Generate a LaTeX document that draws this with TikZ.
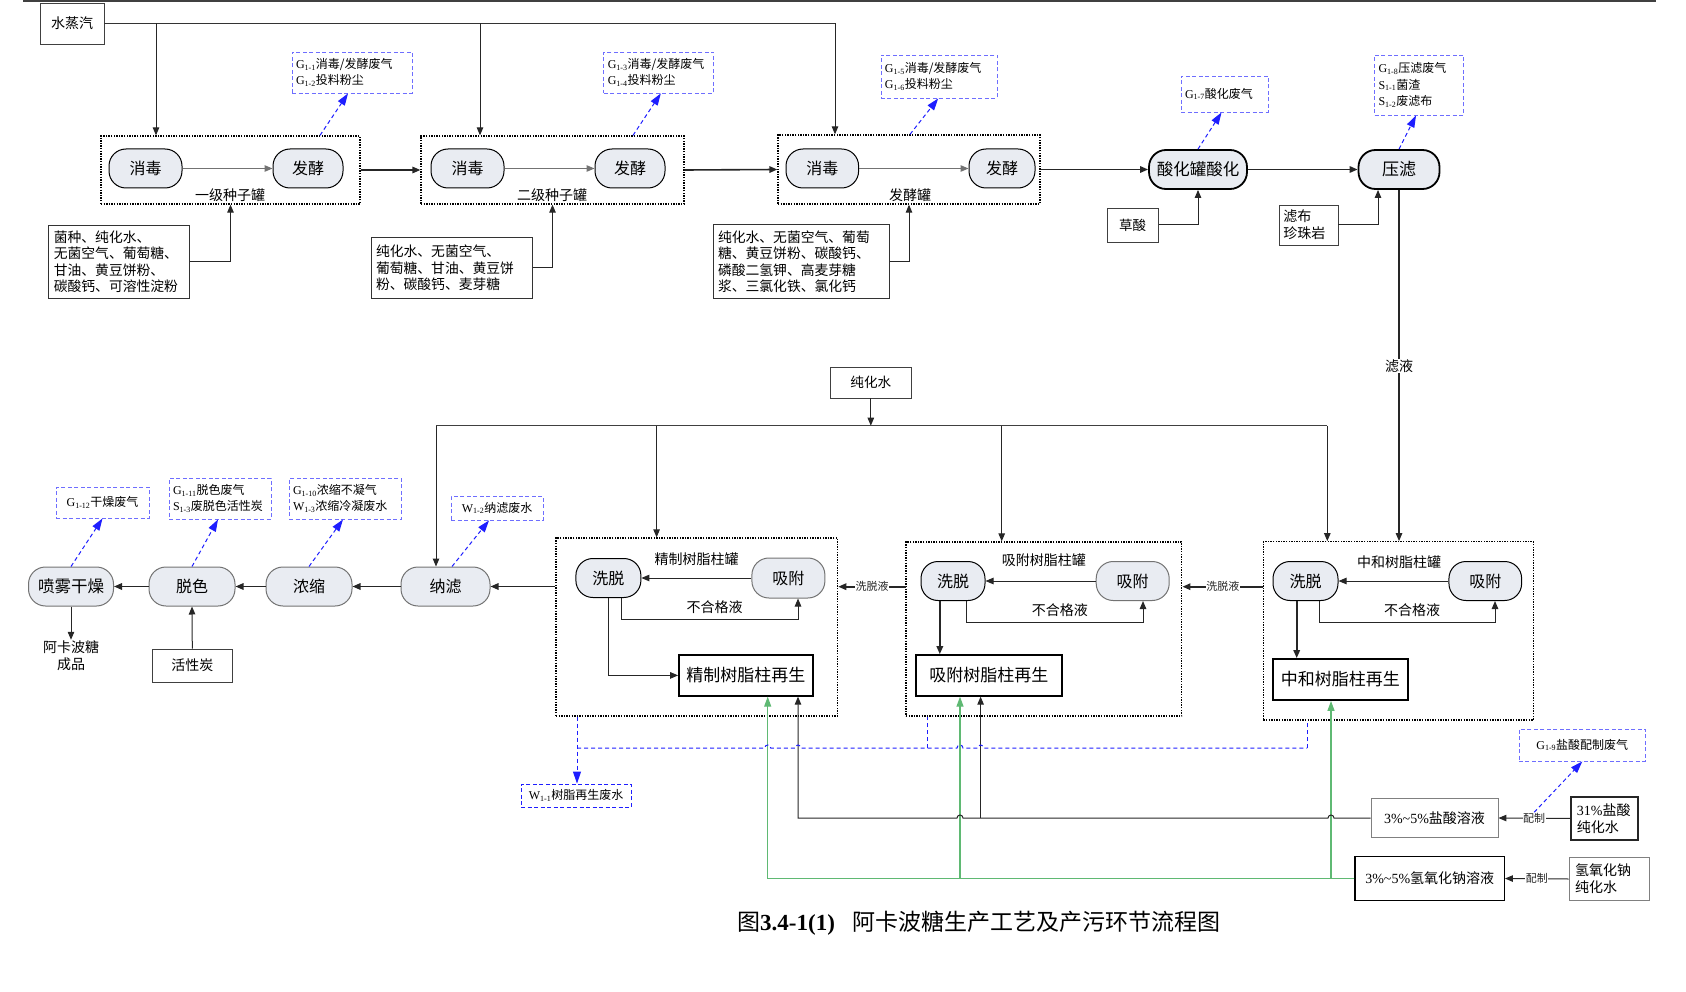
\documentclass[tikz,border=0pt]{standalone}
\usepackage{fontspec}
\setmainfont{Noto Sans CJK SC}
\newfontfamily\tnr{Liberation Serif}
\usetikzlibrary{arrows.meta,calc}
\definecolor{procfill}{RGB}{233,236,242}
\definecolor{eblue}{RGB}{30,30,255}
\definecolor{eboxc}{RGB}{110,110,255}
\definecolor{lgreen}{RGB}{95,185,115}
\newcommand\emsub[2]{{\tnr #1\textsubscript{#2}}}
\newcommand\fsz[2]{\fontsize{#1}{#2}\selectfont}
\begin{document}
\begin{tikzpicture}[x=1pt,y=-1pt,
 proc/.style={draw=black, line width=1pt, fill=procfill, rounded corners=17pt, minimum height=39pt, inner sep=0pt, font=\fsz{16}{18}},
 procg/.style={proc, draw=black!55},
 procb/.style={proc, line width=1.8pt, font=\fsz{16.5}{18}},
 tank/.style={draw, line width=1.3pt, dash pattern=on 1.4pt off 1.2pt, inner sep=0pt},
 plain/.style={draw=black!75, line width=0.9pt, inner sep=0pt, font=\fsz{14}{17}},
 inbox/.style={draw=black!80, line width=1pt, align=left, inner xsep=5pt, inner ysep=0pt, font=\fsz{13.8}{16.5}},
 emis/.style={draw=eboxc, dash pattern=on 4pt off 2.5pt, line width=0.9pt, align=left, inner xsep=4pt, inner ysep=0pt, font=\fsz{12}{16.5}},
 regen/.style={draw, line width=1.8pt, inner sep=0pt, font=\fsz{17}{20}},
 lbl/.style={inner sep=1pt, font=\fsz{14}{17}},
 slbl/.style={inner sep=0.5pt, fill=white, font=\fsz{11}{13}},
 arr/.style={-{Triangle[length=8pt,width=6.5pt]}, line width=1pt, black!85},
 tarr/.style={arr, line width=1.6pt},
 garr/.style={-{Triangle[length=10pt,width=7pt]}, line width=1.2pt, lgreen},
 earr/.style={eblue, dash pattern=on 4pt off 3pt, line width=1pt, -{Triangle[length=12pt,width=8pt]}},
 edash/.style={eblue, dash pattern=on 4pt off 3pt, line width=1pt}]
\useasboundingbox (0,0) rectangle (1686,992);

% top rule
\draw[line width=2pt, black!75] (23,1) -- (1656,1);

% ---------- top row ----------
\node[plain, minimum width=64pt, minimum height=41pt] (steam) at (72,23.5) {水蒸汽};

\node[tank, minimum width=259pt, minimum height=68pt] (T1) at (230.5,170) {};
\node[proc, minimum width=73pt] (s1) at (145.5,168.5) {消毒};
\node[proc, minimum width=70pt] (f1) at (308,168.5) {发酵};
\node[lbl] (T1l) at (230,195) {一级种子罐};
\node[emis, text width=112pt, minimum height=41pt] (e1) at (352,72.5) {\emsub{G}{1-1}消毒/发酵废气\\\emsub{G}{1-2}投料粉尘};
\node[inbox, text width=131pt, minimum height=72pt] (in1) at (119.3,262) {菌种、纯化水、\\无菌空气、葡萄糖、\\甘油、黄豆饼粉、\\碳酸钙、可溶性淀粉};

\node[tank, minimum width=263pt, minimum height=68pt] (T2) at (552.5,170) {};
\node[proc, minimum width=73pt] (s2) at (467.5,168.5) {消毒};
\node[proc, minimum width=70pt] (f2) at (630,168.5) {发酵};
\node[lbl] (T2l) at (552,195) {二级种子罐};
\node[emis, text width=102pt, minimum height=41pt] (e2) at (658.8,72.5) {\emsub{G}{1-3}消毒/发酵废气\\\emsub{G}{1-4}投料粉尘};
\node[inbox, text width=151pt, minimum height=60pt] (in2) at (451.5,268) {纯化水、无菌空气、\\葡萄糖、甘油、黄豆饼\\粉、碳酸钙、麦芽糖};

\node[tank, minimum width=262pt, minimum height=69pt] (T3) at (909,169.5) {};
\node[proc, minimum width=72.6pt] (s3) at (822.3,168.5) {消毒};
\node[proc, minimum width=66pt] (f3) at (1002,168.5) {发酵};
\node[lbl] (T3l) at (910,195) {发酵罐};
\node[emis, text width=108.5pt, minimum height=43pt] (e3) at (939.2,76.5) {\emsub{G}{1-5}消毒/发酵废气\\\emsub{G}{1-6}投料粉尘};
\node[inbox, text width=166pt, minimum height=73pt] (in3) at (801,261.5) {纯化水、无菌空气、葡萄\\糖、黄豆饼粉、碳酸钙、\\磷酸二氢钾、高麦芽糖\\浆、三氯化铁、氯化钙};

\node[procb, minimum width=98pt] (acid) at (1198,169.5) {酸化罐酸化};
\node[emis, text width=79pt, minimum height=36pt] (e4) at (1224.5,94) {\emsub{G}{1-7}酸化废气};
\node[plain, minimum width=51.5pt, minimum height=34pt, font=\fsz{13.5}{16}] (oxal) at (1132.7,225) {草酸};

\node[procb, minimum width=81pt, font=\fsz{17}{19}] (press) at (1399,169.5) {压滤};
\node[emis, text width=81pt, minimum height=60pt] (e5) at (1419,85) {\emsub{G}{1-8}压滤废气\\\emsub{S}{1-1}菌渣\\\emsub{S}{1-2}废滤布};
\node[plain, align=left, inner xsep=4pt, text width=50.5pt, minimum height=40pt] (filt) at (1308.7,225) {滤布\\珍珠岩};

% top connectors
\coordinate (j1) at (156,23.5);
\coordinate (j2) at (480,23.5);
\coordinate (j3) at (835,23.5);
\draw[line width=1.1pt, black!80] (steam.east) -- (j3);
\draw[arr] (j1) -- (j1 |- T1.north);
\draw[arr] (j2) -- (j2 |- T2.north);
\draw[arr] (j3) -- (j3 |- T3.north);

\draw[arr, black!55] (s1.east) -- (f1.west);
\draw[arr, black!55] (s2.east) -- (f2.west);
\draw[arr, black!55] (s3.east) -- (f3.west);
\draw[tarr] (T1.east) -- (T2.west);
\draw[tarr] (T2.east) -- (T3.west);
\draw[tarr] (T3.east) -- (acid.west);
\draw[tarr] (acid.east) -- (press.west);

\draw[arr] (in1.east) -| (T1.south);
\draw[arr] (in2.east) -| (T2.south);
\draw[arr] (in3.east) -| (T3.south);
\draw[arr] (oxal.east) -| (acid.south);
\coordinate (pin) at ([xshift=-21pt]press.south);
\draw[arr] (filt.east) -| (pin);

\draw[earr] ([xshift=89.5pt]T1.north) -- ([xshift=-4pt]e1.south);
\draw[earr] ([xshift=80.5pt]T2.north) -- ([xshift=2pt]e2.south);
\draw[earr] ([xshift=1pt]T3.north) -- ([xshift=-1pt]e3.south);
\draw[earr] (acid.north) -- ([xshift=-3pt]e4.south);
\draw[earr] (press.north) -- ([xshift=-3pt]e5.south);

% ---------- middle ----------
\node[plain, minimum width=81.6pt, minimum height=31pt, font=\fsz{13.6}{16}] (pw) at (870.8,382.5) {纯化水};
\node[tank, minimum width=281.6pt, minimum height=178pt] (TA) at (696.8,627) {};
\node[tank, minimum width=275.8pt, minimum height=174pt] (TB) at (1043.9,629) {};
\node[tank, minimum width=270pt, minimum height=178.3pt] (TC) at (1398.3,630.9) {};

\coordinate (d0) at (436,425.7);
\coordinate (dA) at (656.6,425.7);
\coordinate (dB) at (1001.7,425.7);
\coordinate (dC) at (1327.3,425.7);
\draw[line width=1.1pt, black!75] (d0) -- (dC);
\draw[arr] (pw.south) -- (pw.south |- d0);
\draw[arr] (dA) -- (dA |- TA.north);
\draw[arr] (dB) -- (dB |- TB.north);
\draw[arr] (dC) -- (dC |- TC.north);

\draw[arr, line width=1.3pt] (press.south) -- (press.south |- TC.north);
\node[lbl, fill=white] (fl) at (1399,366) {滤液};

% bottom-left process row
\node[procg, minimum width=89pt] (nf) at (445.5,586.5) {纳滤};
\node[procg, minimum width=86pt] (cc) at (309,586.5) {浓缩};
\node[procg, minimum width=86pt] (dc) at (192,586.5) {脱色};
\node[procg, minimum width=85pt, font=\fsz{16.5}{18}] (sd) at (71,586.5) {喷雾干燥};
\node[lbl, align=center] (prod) at (71,656) {阿卡波糖\\成品};
\node[plain, minimum width=79.5pt, minimum height=33pt] (ac) at (192.3,665.5) {活性炭};
\node[emis, align=center, text width=85pt, minimum height=31pt] (e12) at (102.5,502.5) {\emsub{G}{1-12}干燥废气};
\node[emis, text width=94pt, minimum height=41pt] (e11) at (220,498.5) {\emsub{G}{1-11}脱色废气\\\emsub{S}{1-3}废脱色活性炭};
\node[emis, text width=104pt, minimum height=41pt] (e10) at (345,498.5) {\emsub{G}{1-10}浓缩不凝气\\\emsub{W}{1-3}浓缩冷凝废水};
\node[emis, align=center, text width=84pt, minimum height=24pt] (ew2) at (497,508) {\emsub{W}{1-2}纳滤废水};

\coordinate (dn) at ([xshift=-9.5pt]nf.north);
\draw[arr] (d0) -- (dn);
\draw[tarr] (nf.east -| TA.west) -- (nf.east);
\draw[tarr] (nf.west) -- (cc.east);
\draw[tarr] (cc.west) -- (dc.east);
\draw[tarr] (dc.west) -- (sd.east);
\draw[arr] (sd.south) -- (prod.north);
\draw[arr] (ac.north) -- (dc.south);

\draw[earr] (sd.north) -- (e12.south);
\draw[earr] (dc.north) -- ([xshift=-2pt]e11.south);
\draw[earr] (cc.north) -- ([xshift=-2pt]e10.south);
\draw[earr] ([xshift=6.5pt]nf.north) -- ([xshift=-8pt]ew2.south);

% ---------- resin tanks ----------
\node[proc, minimum width=65pt] (wA) at (608.4,578) {洗脱};
\node[procg, minimum width=73pt, minimum height=40pt] (aA) at (788.4,578) {吸附};
\node[lbl] (TAl) at (696.6,559) {精制树脂柱罐};
\node[regen, minimum width=133.7pt, minimum height=40.7pt] (rA) at (745.9,675.4) {精制树脂柱再生};
\node[lbl] (nA) at (714.7,606.7) {不合格液};

\node[proc, minimum width=64pt] (wB) at (953,581) {洗脱};
\node[procg, minimum width=73pt] (aB) at (1132.7,581) {吸附};
\node[lbl] (TBl) at (1043.8,560) {吸附树脂柱罐};
\node[regen, minimum width=146.1pt, minimum height=40.7pt] (rB) at (988.9,675.4) {吸附树脂柱再生};
\node[lbl] (nB) at (1059.8,610) {不合格液};

\node[proc, minimum width=65pt] (wC) at (1305.5,581) {洗脱};
\node[proc, minimum width=72.7pt] (aC) at (1485.3,581) {吸附};
\node[lbl] (TCl) at (1399,561.7) {中和树脂柱罐};
\node[regen, minimum width=134.7pt, minimum height=41pt] (rC) at (1340.3,679.5) {中和树脂柱再生};
\node[lbl] (nC) at (1412,610) {不合格液};

\draw[arr] (aA.west) -- (wA.east);
\draw[arr] ([xshift=12.6pt]wA.south) -- ++(0,21.2) -| ([xshift=9.6pt]aA.south);
\draw[arr] (wA.south) |- (rA.west);

\draw[arr] (aB.west) -- (wB.east);
\draw[arr] ([xshift=13pt]wB.south) -- ++(0,21.5) -| ([xshift=10.3pt]aB.south);
\coordinate (wBs) at ([xshift=-13.2pt]wB.south);
\draw[tarr] (wBs) -- (wBs |- rB.north);

\draw[arr] (aC.west) -- (wC.east);
\draw[arr] ([xshift=13.5pt]wC.south) -- ++(0,21.5) -| ([xshift=9.7pt]aC.south);
\coordinate (wCs) at ([xshift=-8.8pt]wC.south);
\draw[tarr] (wCs) -- (wCs |- rC.north);

\coordinate (xB) at (906,586.7);
\coordinate (xC) at (1263.3,586.7);
\draw[tarr] (xB) -- (xB -| TA.east) node[midway, slbl] (el1) {洗脱液};
\draw[tarr] (xC) -- (xC -| TB.east) node[midway, slbl] (el2) {洗脱液};

% ---------- bottom: reagent lines ----------
\node[plain, draw=black!50, minimum width=127pt, minimum height=38.3pt] (hcl) at (1434.5,818) {{\tnr 3\%\textasciitilde5\%}盐酸溶液};
\node[plain, draw=black!85, line width=1.8pt, align=left, inner xsep=6pt, text width=55pt, minimum height=42.7pt] (hs) at (1604.4,818.4) {{\tnr 31\%}盐酸\\纯化水};
\node[plain, draw=black, line width=1.2pt, minimum width=149.3pt, minimum height=43.6pt] (naoh) at (1429.7,878.5) {{\tnr 3\%\textasciitilde5\%}氢氧化钠溶液};
\node[plain, draw=black!50, align=left, inner xsep=6pt, text width=68.7pt, minimum height=42.6pt] (ns) at (1609.4,879) {氢氧化钠\\纯化水};
\node[emis, align=center, text width=118.7pt, minimum height=32pt] (e9) at (1582.3,745) {\emsub{G}{1-9}盐酸配制废气};
\node[emis, draw=eblue, align=center, text width=102pt, minimum height=23pt] (ew1) at (576,795.5) {\emsub{W}{1-1}树脂再生废水};

\draw[arr] (hs.west) -- (hcl.east) node[midway, slbl] (pz1) {配制};
\draw[arr] (ns.west) -- (naoh.east) node[midway, slbl] (pz2) {配制};
\draw[earr] (pz1.north) -- (e9.south);

% green NaOH line
\coordinate (gA) at (767.7,878.5);
\coordinate (gB) at (960,878.5);
\coordinate (gC) at (1331,878.5);
\draw[garr] (naoh.west) -- (gA) -- (gA |- rA.south);
\draw[garr] (gB) -- (gB |- rB.south);
\draw[garr] (gC) -- (gC |- rC.south);

% black HCl line with hops
\coordinate (kA) at (798,818);
\coordinate (kB) at (980.6,818);
\draw[arr] (hcl.west) -- (1334,818) arc[start angle=360, end angle=180, radius=3] -- (963,818) arc[start angle=360, end angle=180, radius=3] -- (kA) -- (kA |- rA.south);
\draw[arr] (kB) -- (kB |- rB.south);

% blue regeneration waste line with hops
\coordinate (bA) at ([xshift=-119.8pt]TA.south);
\coordinate (hb) at (bA |- 0,748);
\coordinate (bB) at (927.8,748);
\coordinate (bC) at (1307,748);
\draw[earr] (bA) -- (bA |- ew1.north);
\draw[edash] (hb) -- (764.7,748) arc[start angle=180, end angle=360, radius=3] -- (795,748) arc[start angle=180, end angle=360, radius=3] -- (bB) -- (957,748) arc[start angle=180, end angle=360, radius=3] -- (977.6,748) arc[start angle=180, end angle=360, radius=3] -- (bC);
\draw[edash] (bB) -- (bB |- TB.south);
\draw[edash] (bC) -- (bC |- TC.south);

% caption
\node[anchor=west, inner sep=0pt, font=\fsz{23}{27}] (cap) at (737,923) {图{\tnr\bfseries 3.4-1(1)}\hspace{0.75em}阿卡波糖生产工艺及产污环节流程图};
\end{tikzpicture}
\end{document}
